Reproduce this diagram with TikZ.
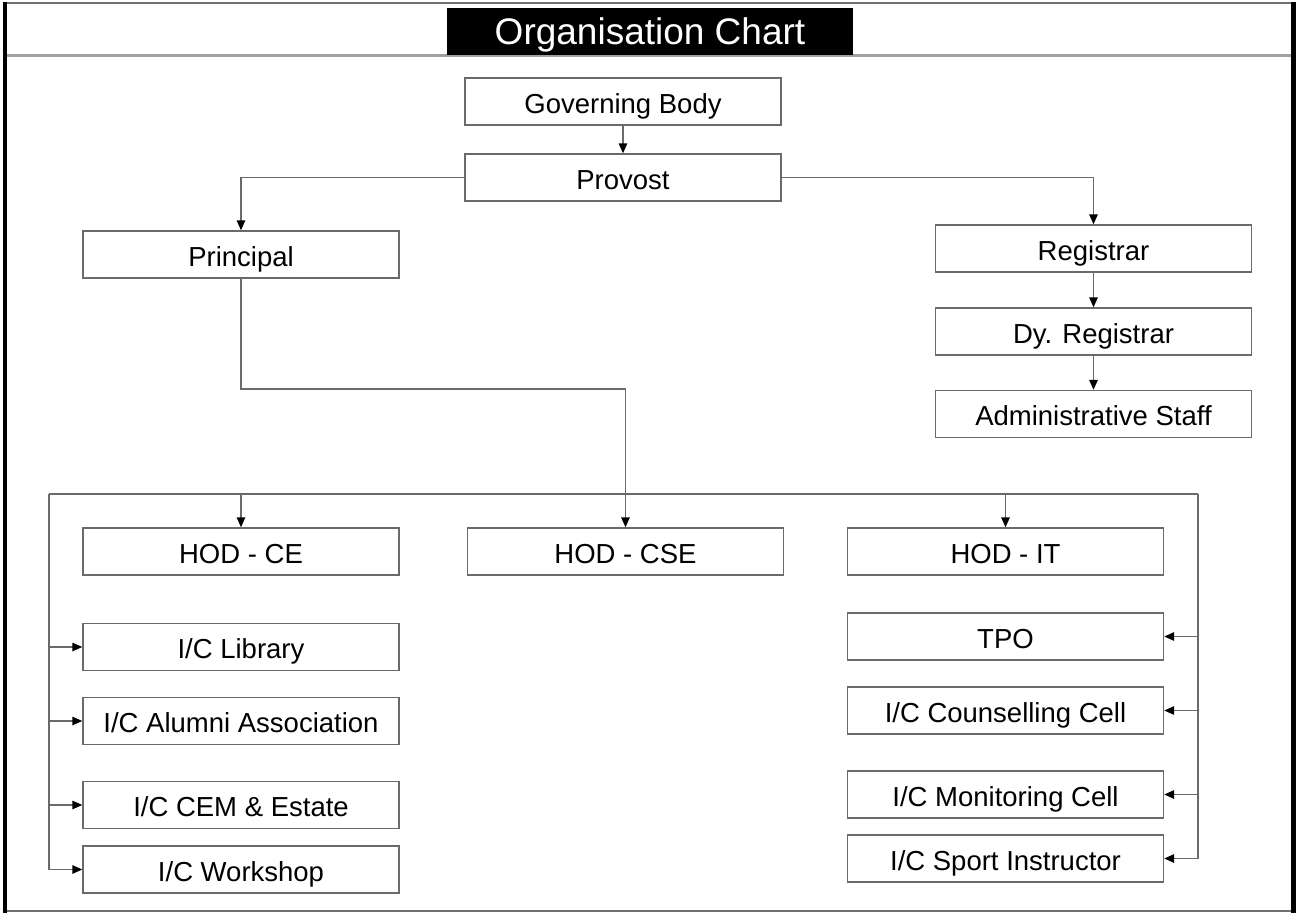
\documentclass[tikz,border=0pt]{standalone}
\usepackage{fontspec}
\setmainfont{Liberation Sans}
\usetikzlibrary{arrows.meta}
\definecolor{linegray}{HTML}{6A6A6A}
\definecolor{titlegray}{HTML}{A0A0A0}
\definecolor{framegray}{HTML}{707070}
\begin{document}
\begin{tikzpicture}[x=1pt,y=-1pt,
  box/.style={draw=linegray, line width=1.4pt, minimum width=316pt, minimum height=47pt, inner sep=0pt, text height=23pt, text depth=0pt, font=\fontsize{27.5}{33}\selectfont},
  conn/.style={draw=linegray, line width=1.4pt},
  arr/.style={conn, -{Triangle[length=10pt,width=8.5pt,color=black]}},
  titlebox/.style={fill=black, text=white, minimum width=406pt, minimum height=47pt, inner sep=0pt, text height=26.5pt, text depth=0pt, font=\fontsize{37}{40}\selectfont}
]
\useasboundingbox (0,0) rectangle (1296,913);
% frame
\draw[framegray, line width=2pt] (3,2.5) -- (1293,2.5);
\draw[framegray, line width=2pt] (3,911) -- (1293,911);
\draw[black, line width=4.5pt] (5,1.5) -- (5,913);
\draw[black, line width=5pt] (1293.5,1.5) -- (1293.5,913);
\draw[titlegray, line width=2.5pt] (7,55.5) -- (1291,55.5);
\node[titlebox] (title) at (650,31.5) {Organisation Chart};

% nodes
\node[box] (gov) at (623,101.5) {Governing Body};
\node[box] (prov) at (623,177.5) {Provost};
\node[box] (principal) at (241,254.5) {Principal};
\node[box] (reg) at (1093.5,248.5) {Registrar};
\node[box] (dyreg) at (1093.5,331.5) {Dy. Registrar};
\node[box] (admin) at (1093.5,414) {Administrative Staff};
\node[box] (hodce) at (241,551.5) {HOD - CE};
\node[box] (hodcse) at (625.5,551.5) {HOD - CSE};
\node[box] (hodit) at (1005.5,551.5) {HOD - IT};
\node[box] (lib) at (241,647) {I/C Library};
\node[box] (alumni) at (241,721) {I/C Alumni Association};
\node[box] (cem) at (241,805) {I/C CEM \& Estate};
\node[box] (work) at (241,869.5) {I/C Workshop};
\node[box] (tpo) at (1005.5,636.5) {TPO};
\node[box] (couns) at (1005.5,710.5) {I/C Counselling Cell};
\node[box] (monit) at (1005.5,794.5) {I/C Monitoring Cell};
\node[box] (sport) at (1005.5,858.5) {I/C Sport Instructor};

% coordinates
\coordinate (pjog) at (241,389);
\coordinate (busL) at (49,494);
\coordinate (busR) at (1198,494);

% connectors
\draw[arr] (gov.south) -- (prov.north);
\draw[arr] (prov.west) -| (principal.north);
\draw[arr] (prov.east) -| (reg.north);
\draw[arr] (reg.south) -- (dyreg.north);
\draw[arr] (dyreg.south) -- (admin.north);
\draw[arr] (principal.south) -- (pjog) -| (hodcse.north);
\draw[conn] (busL) -- (busR);
\draw[arr] (busL -| hodce.north) -- (hodce.north);
\draw[arr] (busL -| hodit.north) -- (hodit.north);
\draw[conn] (busL) -- (busL |- work.west);
\draw[conn] (busR) -- (busR |- sport.east);
\draw[arr] (busL |- lib.west) -- (lib.west);
\draw[arr] (busL |- alumni.west) -- (alumni.west);
\draw[arr] (busL |- cem.west) -- (cem.west);
\draw[arr] (busL |- work.west) -- (work.west);
\draw[arr] (busR |- tpo.east) -- (tpo.east);
\draw[arr] (busR |- couns.east) -- (couns.east);
\draw[arr] (busR |- monit.east) -- (monit.east);
\draw[arr] (busR |- sport.east) -- (sport.east);
\end{tikzpicture}
\end{document}
